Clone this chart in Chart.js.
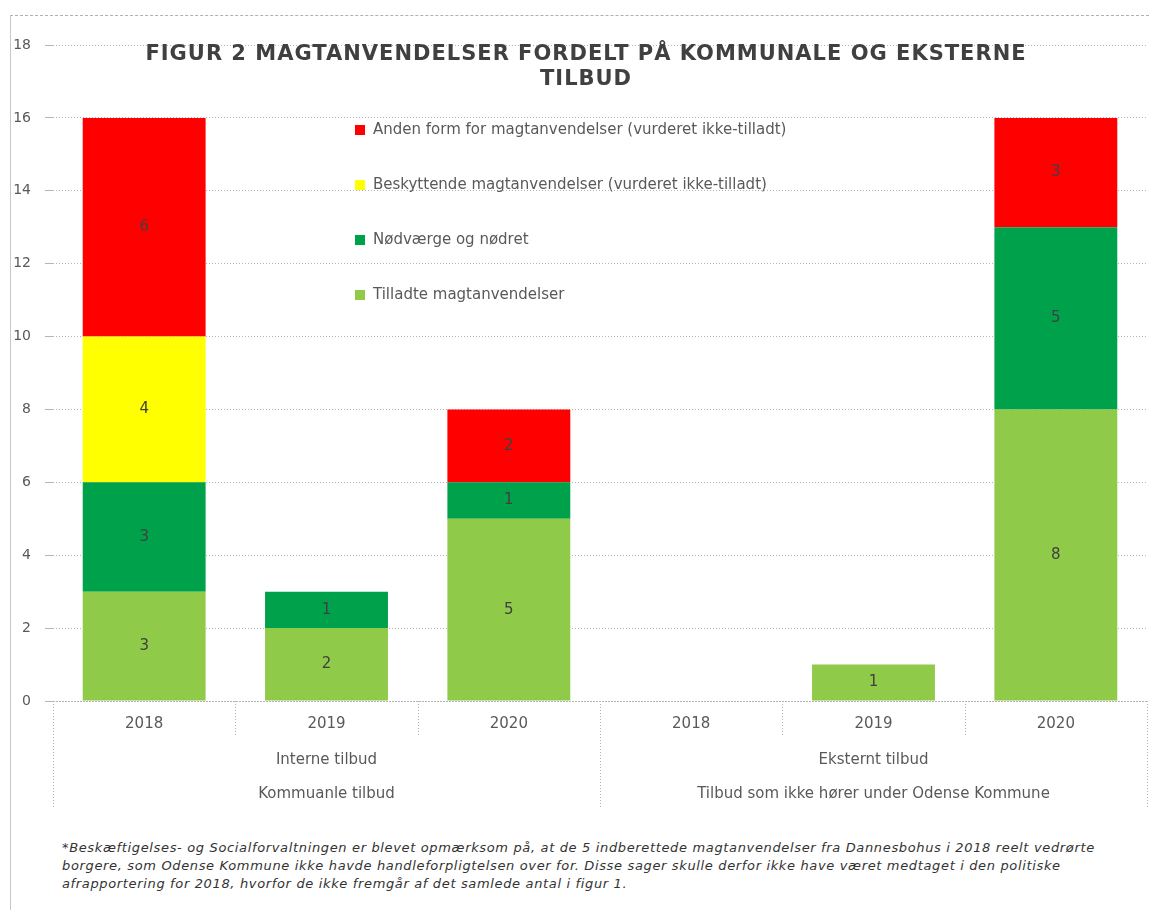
<!DOCTYPE html>
<html lang="da">
<head>
  <meta charset="UTF-8" />
  <title>Figur 2 magtanvendelser</title>
  <script src="https://cdn.jsdelivr.net/npm/chart.js"></script>
  <style>
    body {
      margin: 0;
      background: #fff;
      font-family: "DejaVu Sans", Verdana, sans-serif;
    }
    #wrap {
      position: relative;
      width: 1149px;
      height: 910px;
    }
    #frame {
      position: absolute;
      left: 10px;
      top: 15px;
      right: 0;
      bottom: 0;
      border-top: 1px dashed #b0b0b0;
      border-left: 1px solid #c8c8c8;
    }
    #box {
      position: absolute;
      left: 0;
      top: 0;
      width: 1149px;
      height: 820px;
    }
    #note {
      position: absolute;
      left: 62px;
      top: 839px;
      width: 1085px;
      font: italic 13px "DejaVu Sans", Verdana, sans-serif;
      letter-spacing: 0.65px;
      line-height: 18px;
      color: #333;
      white-space: nowrap;
    }
  </style>
</head>
<body>
<div id="wrap">
  <div id="frame"></div>
  <div id="box"><canvas id="chart"></canvas></div>
  <div id="note">
    *Beskæftigelses- og Socialforvaltningen er blevet opmærksom på, at de 5 indberettede magtanvendelser fra Dannesbohus i 2018 reelt vedrørte<br>
    borgere, som Odense Kommune ikke havde handleforpligtelsen over for. Disse sager skulle derfor ikke have været medtaget i den politiske<br>
    afrapportering for 2018, hvorfor de ikke fremgår af det samlede antal i figur 1.
  </div>
</div>

<script>
  // data
  const years = ["2018", "2019", "2020", "2018", "2019", "2020"];
  const groupLabels = ["Interne tilbud", "Eksternt tilbud"];
  const topLabels = ["Kommuanle tilbud", "Tilbud som ikke hører under Odense Kommune"];
  const titleLines = ["FIGUR 2 MAGTANVENDELSER FORDELT PÅ KOMMUNALE OG EKSTERNE", "TILBUD"];

  const tilladte = [3, 2, 5, null, 1, 8];
  const noedvaerge = [3, 1, 1, null, null, 5];
  const beskyttende = [4, null, null, null, null, null];
  const anden = [6, null, 2, null, null, 3];

  const yTicks = [0, 2, 4, 6, 8, 10, 12, 14, 16, 18];

  const txt = "#595959";
  const gridCol = "#b5b5b5";
  const font = '"DejaVu Sans", Verdana, sans-serif';

  // title, legend, value labels and the multi level x axis
  const extras = {
    id: "extras",
    afterDraw(chart) {
      const ctx = chart.ctx;
      const area = chart.chartArea;
      const x = chart.scales.x;
      ctx.save();

      // values inside the segments
      ctx.font = "15px " + font;
      ctx.fillStyle = "#404040";
      ctx.textAlign = "center";
      ctx.textBaseline = "middle";
      chart.data.datasets.forEach((ds, i) => {
        chart.getDatasetMeta(i).data.forEach((el, j) => {
          if (ds.data[j] == null) return;
          ctx.fillText(ds.data[j], el.x, (el.y + el.base) / 2);
        });
      });

      // title
      ctx.font = "bold 21px " + font;
      ctx.letterSpacing = "1px";
      ctx.fillStyle = "#404040";
      titleLines.forEach((t, i) => ctx.fillText(t, 586, 55 + i * 25));
      ctx.letterSpacing = "0px";

      // legend, top series first
      ctx.font = "15px " + font;
      ctx.textAlign = "left";
      const items = chart.data.datasets.slice().reverse();
      items.forEach((ds, i) => {
        const ly = area.top + 85 + i * 55;
        ctx.fillStyle = ds.backgroundColor;
        ctx.fillRect(area.left + 302, ly - 5, 10, 10);
        ctx.fillStyle = txt;
        ctx.fillText(ds.label, area.left + 320, ly);
      });

      // dotted axis line and category separators
      const half = (x.getPixelForValue(1) - x.getPixelForValue(0)) / 2;
      ctx.strokeStyle = gridCol;
      ctx.lineWidth = 1;
      ctx.setLineDash([1, 2]);
      ctx.beginPath();
      ctx.moveTo(area.left - 8, area.bottom + 0.5);
      ctx.lineTo(area.right, area.bottom + 0.5);
      ctx.stroke();
      for (let i = 0; i <= years.length; i++) {
        const bx = Math.round(x.getPixelForValue(i) - half) + 0.5;
        const len = i % 3 === 0 ? 107 : 34;
        ctx.beginPath();
        ctx.moveTo(bx, area.bottom);
        ctx.lineTo(bx, area.bottom + len);
        ctx.stroke();
      }
      ctx.setLineDash([]);

      // group labels
      ctx.textAlign = "center";
      ctx.fillStyle = txt;
      groupLabels.forEach((g, i) => {
        ctx.fillText(g, x.getPixelForValue(1 + i * 3), area.bottom + 59);
      });
      topLabels.forEach((g, i) => {
        ctx.fillText(g, x.getPixelForValue(1 + i * 3), area.bottom + 93);
      });
      ctx.restore();
    }
  };

  new Chart(document.getElementById("chart"), {
    type: "bar",
    data: {
      labels: years,
      datasets: [
        { label: "Tilladte magtanvendelser", data: tilladte, backgroundColor: "#8fca48" },
        { label: "Nødværge og nødret", data: noedvaerge, backgroundColor: "#00a14b" },
        { label: "Beskyttende magtanvendelser (vurderet ikke-tilladt)", data: beskyttende, backgroundColor: "#ffff00" },
        { label: "Anden form for magtanvendelser (vurderet ikke-tilladt)", data: anden, backgroundColor: "#ff0000" },
      ],
    },
    options: {
      responsive: true,
      maintainAspectRatio: false,
      animation: false,
      layout: { padding: { left: 10, right: 2, top: 45, bottom: 10 } },
      datasets: { bar: { barPercentage: 0.674, categoryPercentage: 1 } },
      plugins: {
        legend: { display: false },
        tooltip: { enabled: false },
      },
      scales: {
        x: {
          stacked: true,
          afterFit: (s) => { s.height = 109; },
          grid: { display: false },
          border: { display: false },
          ticks: { color: txt, font: { family: font, size: 15 }, padding: 6, maxRotation: 0 },
        },
        y: {
          stacked: true,
          min: 0,
          max: 18,
          afterFit: (s) => { s.width = 43; },
          afterBuildTicks: (s) => { s.ticks = yTicks.map((v) => ({ value: v })); },
          border: { display: false, dash: [1, 2] },
          grid: { color: gridCol, tickLength: 8, drawTicks: true },
          ticks: { color: txt, font: { family: font, size: 14 }, padding: 14 },
        },
      },
    },
    plugins: [extras],
  });
</script>
</body>
</html>
